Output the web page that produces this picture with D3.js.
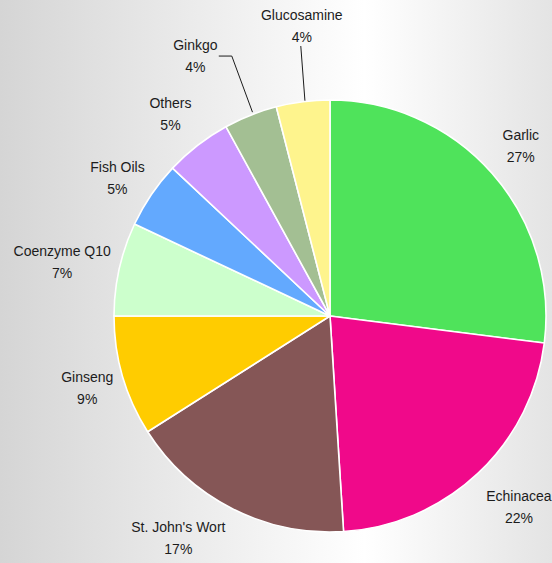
<!DOCTYPE html>
<html>
<head>
<meta charset="utf-8">
<script src="https://cdn.jsdelivr.net/npm/d3@7"></script>
<style>
  html, body { margin: 0; padding: 0; }
  svg { display: block; }
  text { font-family: "Liberation Sans", Arial, sans-serif; font-size: 14px; fill: #1c1c1c; }
</style>
</head>
<body>
<svg id="chart" width="552" height="563"></svg>
<script>
// Supplement usage share, clockwise from 12 o'clock
const categories = ["Garlic", "Echinacea", "St. John's Wort", "Ginseng", "Coenzyme Q10",
                    "Fish Oils", "Others", "Ginkgo", "Glucosamine"];
const shares = [27, 22, 17, 9, 7, 5, 5, 4, 4];
const colors = ["#4fe35b", "#f0098a", "#855656", "#ffcc00", "#ccffcc",
                "#63a9fe", "#cc99ff", "#a3bf93", "#fef48d"];

// Fine adjustments of label placement around the pie (pixels)
const labelNudge = [[-2, 0], [13, 4], [-35, -7], [4, 0], [-17, 2],
                    [0, 6], [-2, 1], [-40, -21], [4, -35]];
// Labels that get a leader line back to their slice: "elbow" or "down"
const leaderKind = [null, null, null, null, null, null, null, "elbow", "down"];

const W = 552, H = 563;
const cx = 330, cy = 316, R = 216, labelR = 257;

const svg = d3.select("#chart");

// Background: grey on the left, fading to white and back to light grey on the right
const grad = svg.append("defs").append("linearGradient")
  .attr("id", "bg").attr("x1", "0").attr("x2", "1").attr("y1", "0").attr("y2", "0");
grad.append("stop").attr("offset", "0").attr("stop-color", "#d5d5d5");
grad.append("stop").attr("offset", "0.66").attr("stop-color", "#ffffff");
grad.append("stop").attr("offset", "1").attr("stop-color", "#e4e4e4");
svg.append("rect").attr("width", W).attr("height", H).attr("fill", "url(#bg)");

const data = categories.map((c, i) => ({ name: c, value: shares[i], color: colors[i], i }));

const pie = d3.pie().value(d => d.value).sort(null);
const arcs = pie(data);
const arc = d3.arc().innerRadius(0).outerRadius(R);

const g = svg.append("g").attr("transform", `translate(${cx},${cy})`);

g.selectAll("path.slice")
  .data(arcs)
  .join("path")
  .attr("class", "slice")
  .attr("d", arc)
  .attr("fill", d => d.data.color)
  .attr("stroke", "#ffffff")
  .attr("stroke-width", 1.6)
  .attr("stroke-linejoin", "round");

// Labels: name above, percentage below
const labels = g.append("g");
arcs.forEach((a, i) => {
  const mid = (a.startAngle + a.endAngle) / 2;
  const lx = labelR * Math.sin(mid) + labelNudge[i][0];
  const ly = -labelR * Math.cos(mid) + labelNudge[i][1];
  const lab = labels.append("g").attr("transform", `translate(${lx},${ly})`);
  const t1 = lab.append("text").attr("text-anchor", "middle").attr("y", -6).text(a.data.name);
  const t2 = lab.append("text").attr("text-anchor", "middle").attr("y", 16).text(a.data.value + "%");

  if (leaderKind[i]) {
    const b1 = t1.node().getBBox();
    const b2 = t2.node().getBBox();
    const px = R * Math.sin(mid), py = -R * Math.cos(mid);
    let pts;
    if (leaderKind[i] === "elbow") {
      const right = lx + Math.max(b1.x + b1.width, b2.x + b2.width) + 1;
      pts = [[right, ly], [right + 13, ly], [px + 2, py - 3]];
    } else {
      const bottom = ly + b2.y + b2.height + 1;
      pts = [[lx - 1, bottom], [px + 2, py - 1]];
    }
    g.append("path")
      .attr("d", d3.line()(pts))
      .attr("fill", "none")
      .attr("stroke", "#1c1c1c")
      .attr("stroke-width", 1);
  }
});
</script>
</body>
</html>
